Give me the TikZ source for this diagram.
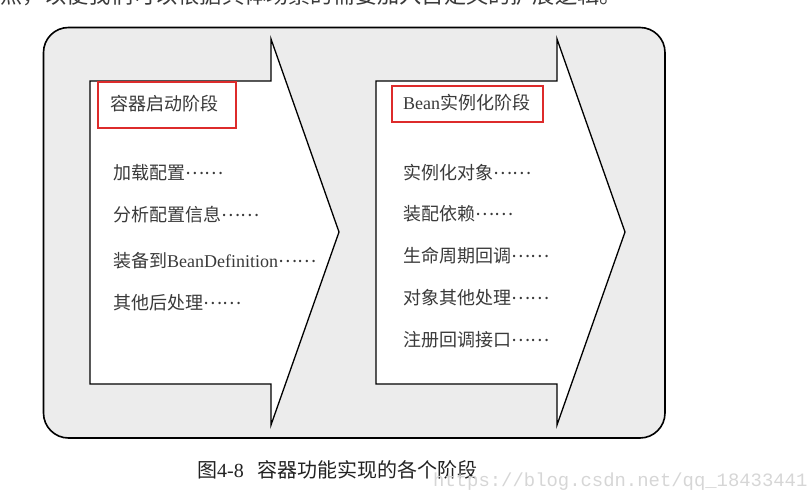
\documentclass[tikz,border=0pt]{standalone}
\usepackage{fontspec}
\setmainfont{Liberation Serif}
\newfontfamily\cjk{Noto Sans CJK SC}
\newfontfamily\wmfont{Liberation Mono}
\definecolor{boxgray}{HTML}{ECECEC}
\definecolor{redline}{HTML}{DD2B2B}
\definecolor{textgray}{HTML}{3A3A3A}
\definecolor{capgray}{HTML}{222222}
\definecolor{wmgray}{HTML}{D6D6D6}
\newcommand\middots{\raisebox{0.3em}{\cjk ……}}
\begin{document}
\begin{tikzpicture}[x=1pt,y=-1pt,
  outerbox/.style={draw=black, fill=boxgray, line width=1.6pt, rounded corners=25pt},
  arrowshape/.style={draw=black, fill=white, line width=1.3pt, line join=miter},
  redbox/.style={draw=redline, line width=1.4pt},
  label/.style={anchor=west, inner sep=0pt, text=textgray, font=\fontsize{18}{21}\selectfont},
  caption/.style={anchor=west, inner sep=0pt, text=capgray, font=\fontsize{20}{23}\selectfont},
  watermark/.style={anchor=west, inner sep=0pt, text=wmgray, font=\wmfont\fontsize{18.9}{21}\selectfont},
  toptext/.style={anchor=base east, inner sep=0pt, text=textgray, font=\cjk\fontsize{22.2}{25}\selectfont}]
\useasboundingbox (0,0) rectangle (807,500);
\clip (0,0) rectangle (807,500);
% partially visible line of text at the top
\node[toptext] (top) at (622,3.5) {点，以便我们可以根据具体场景的需要加入自定义的扩展逻辑。};
% outer rounded box
\draw[outerbox] (43.5,27.5) rectangle (665,438);
% arrows
\draw[arrowshape] (90,81) -- (271,81) -- (271,39) -- (339,232) -- (271,425) -- (271,384) -- (90,384) -- cycle;
\draw[arrowshape] (376,81) -- (557,81) -- (557,39) -- (625,232) -- (557,425) -- (557,384) -- (376,384) -- cycle;
% red title frames
\draw[redbox] (98,82) rectangle (236,128);
\draw[redbox] (392,86) rectangle (543,122);
% stage 1
\node[label] (t1) at (110,104) {\cjk 容器启动阶段};
\node[label] (a1) at (113,173) {{\cjk 加载配置}\middots};
\node[label] (a2) at (113,215) {{\cjk 分析配置信息}\middots};
\node[label] (a3) at (113,261) {{\cjk 装备到}BeanDefinition\middots};
\node[label] (a4) at (113,303) {{\cjk 其他后处理}\middots};
% stage 2
\node[label] (t2) at (403,103) {Bean{\cjk 实例化阶段}};
\node[label] (b1) at (403,173) {{\cjk 实例化对象}\middots};
\node[label] (b2) at (403,214) {{\cjk 装配依赖}\middots};
\node[label] (b3) at (403,256) {{\cjk 生命周期回调}\middots};
\node[label] (b4) at (403,298) {{\cjk 对象其他处理}\middots};
\node[label] (b5) at (403,340) {{\cjk 注册回调接口}\middots};
% caption and watermark
\node[caption] (cap) at (197,470) {{\cjk 图}4-8\hspace{14pt}{\cjk 容器功能实现的各个阶段}};
\node[watermark] (wm) at (433,482) {https://blog.csdn.net/qq\_18433441};
\end{tikzpicture}
\end{document}
